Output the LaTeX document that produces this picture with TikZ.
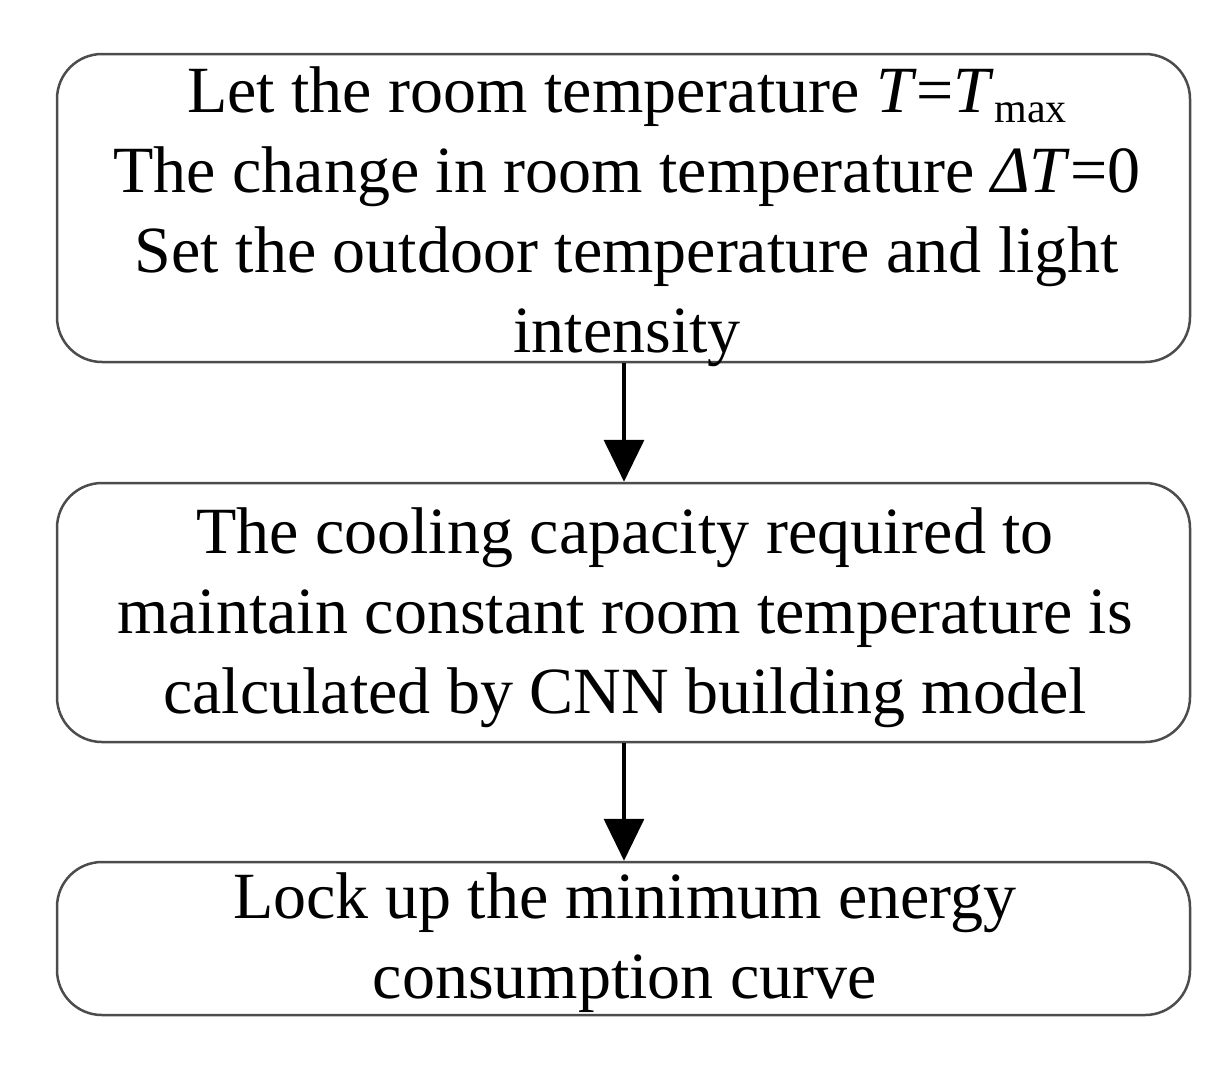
\documentclass[tikz,border=0pt]{standalone}
\usepackage{fontspec}
\setmainfont{Liberation Serif}
\usetikzlibrary{arrows.meta}
\begin{document}
\begin{tikzpicture}[x=1pt,y=-1pt,
  flowbox/.style={draw=black!70,line width=2.5pt,rounded corners=45pt,fill=white,inner sep=0pt},
  flowtext/.style={align=center,inner sep=0pt,font=\fontsize{66}{80}\selectfont},
  flowarrow/.style={line width=3.5pt,-{Triangle[width=40pt,length=42pt]}}]
\useasboundingbox (0,0) rectangle (1230,1066);
\node[flowbox,minimum width=1133pt,minimum height=308pt] (b1) at (623.5,208) {};
\node[flowbox,minimum width=1133pt,minimum height=259pt] (b2) at (623.5,612.5) {};
\node[flowbox,minimum width=1133pt,minimum height=153pt] (b3) at (623.5,938.5) {};
\node[flowtext] (t1) at (627,217) {Let the room temperature \textit{T}=\textit{T}{\fontsize{42}{42}\selectfont\raisebox{-10pt}{max}}\\The change in room temperature \textit{Δ}\textit{T}=0\\Set the outdoor temperature and light\\intensity};
\node[flowtext] (t2) at (625,618) {The cooling capacity required to\\maintain constant room temperature is\\calculated by CNN building model};
\node[flowtext] (t3) at (625,943) {Lock up the minimum energy\\consumption curve};
\draw[flowarrow] (b1.south -| 624,0) -- (b2.north -| 624,0);
\draw[flowarrow] (b2.south -| 624,0) -- (b3.north -| 624,0);
\end{tikzpicture}
\end{document}
